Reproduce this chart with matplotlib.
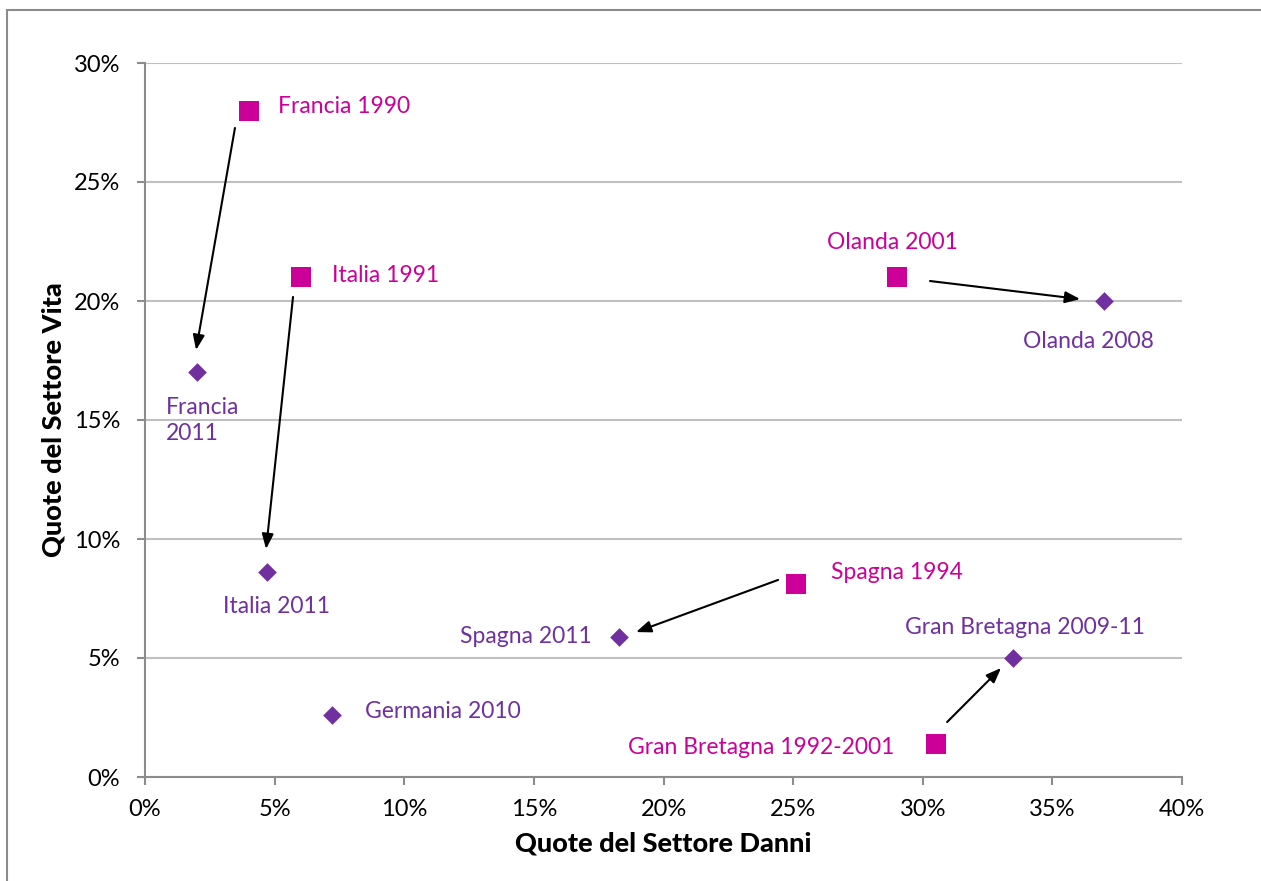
import matplotlib.pyplot as plt
from matplotlib.patches import Rectangle
from matplotlib.ticker import PercentFormatter

plt.rcParams['font.family'] = ['Lato', 'DejaVu Sans']

# squares: starting year
start_names = ["Francia 1990", "Italia 1991", "Olanda 2001", "Spagna 1994", "Gran Bretagna 1992-2001"]
start_danni = [4.0, 6.0, 29.0, 25.1, 30.5]
start_vita = [28.0, 21.0, 21.0, 8.1, 1.4]

# diamonds: recent year
end_names = ["Francia\n2011", "Italia 2011", "Olanda 2008", "Spagna 2011", "Gran Bretagna 2009-11", "Germania 2010"]
end_danni = [2.0, 4.7, 37.0, 18.3, 33.5, 7.2]
end_vita = [17.0, 8.6, 20.0, 5.9, 5.0, 2.6]

# arrows (from -> to), in data units
arrow_from = [(3.47, 27.27), (5.71, 20.17), (30.28, 20.84), (24.42, 8.28), (30.94, 2.31)]
arrow_to = [(1.97, 17.94), (4.67, 9.58), (36.07, 20.08), (18.94, 6.09), (33.02, 4.58)]

# label offsets in pixels and alignment
start_off = [(29, 4, 'left'), (31, 2, 'left'), (-4, 35, 'center'), (35, 12, 'left'), (-41, -4, 'right')]
end_off = [(-31, -48, 'left'), (10, -34, 'center'), (-16, -41, 'center'), (-28, 0, 'right'), (-108, 30, 'left'), (33, 4, 'left')]

MAGENTA = '#CC0099'
PURPLE = '#7030A0'

fig = plt.figure(figsize=(12.61, 8.81), dpi=100)
ax = fig.add_axes([145/1261, 1-777/881, (1182-145)/1261, (777-63)/881])

fig.patches.append(Rectangle((7/1261, -0.1), 1.2, 1-10/881+0.1, transform=fig.transFigure,
                             fill=False, edgecolor='#8c8c8c', linewidth=1.5))

ax.scatter(start_danni, start_vita, marker='s', s=14.5**2, color=MAGENTA, zorder=3, linewidths=0)
ax.scatter(end_danni, end_vita, marker='D', s=9.5**2, color=PURPLE, zorder=3, linewidths=0)

for (x0, y0), (x1, y1) in zip(arrow_from, arrow_to):
    ax.annotate('', xy=(x1, y1), xytext=(x0, y0),
                arrowprops=dict(arrowstyle='-|>,head_length=0.9,head_width=0.35', color='black',
                                lw=1.5, shrinkA=0, shrinkB=0), zorder=4)

for name, x, y, (dx, dy, ha) in zip(start_names, start_danni, start_vita, start_off):
    ax.annotate(name, (x, y), xytext=(dx, dy), textcoords='offset pixels', ha=ha,
                va='center', color=MAGENTA, fontsize=16.5)
for name, x, y, (dx, dy, ha) in zip(end_names, end_danni, end_vita, end_off):
    ax.annotate(name, (x, y), xytext=(dx, dy), textcoords='offset pixels', ha=ha,
                va='center', color=PURPLE, fontsize=16.5, linespacing=1.3)

ax.set_xlim(0, 40)
ax.set_ylim(0, 30)
ax.set_xticks(range(0, 41, 5))
ax.set_yticks(range(0, 31, 5))
ax.xaxis.set_major_formatter(PercentFormatter(decimals=0))
ax.yaxis.set_major_formatter(PercentFormatter(decimals=0))
ax.tick_params(labelsize=17, color='#8c8c8c', length=6, width=1.5)
ax.tick_params(axis='x', pad=10)
ax.tick_params(axis='y', pad=12)
ax.grid(axis='y', color='#c0c0c0', linewidth=1.5)
ax.set_axisbelow(True)
for s in ['top', 'right']:
    ax.spines[s].set_visible(False)
for s in ['left', 'bottom']:
    ax.spines[s].set_color('#8c8c8c')
    ax.spines[s].set_linewidth(1.5)

ax.set_xlabel('Quote del Settore Danni', fontsize=19.5, fontweight='black', labelpad=8)
ax.set_ylabel('Quote del Settore Vita', fontsize=19.5, fontweight='black', labelpad=6)

fig.savefig('out.png', dpi=100)
